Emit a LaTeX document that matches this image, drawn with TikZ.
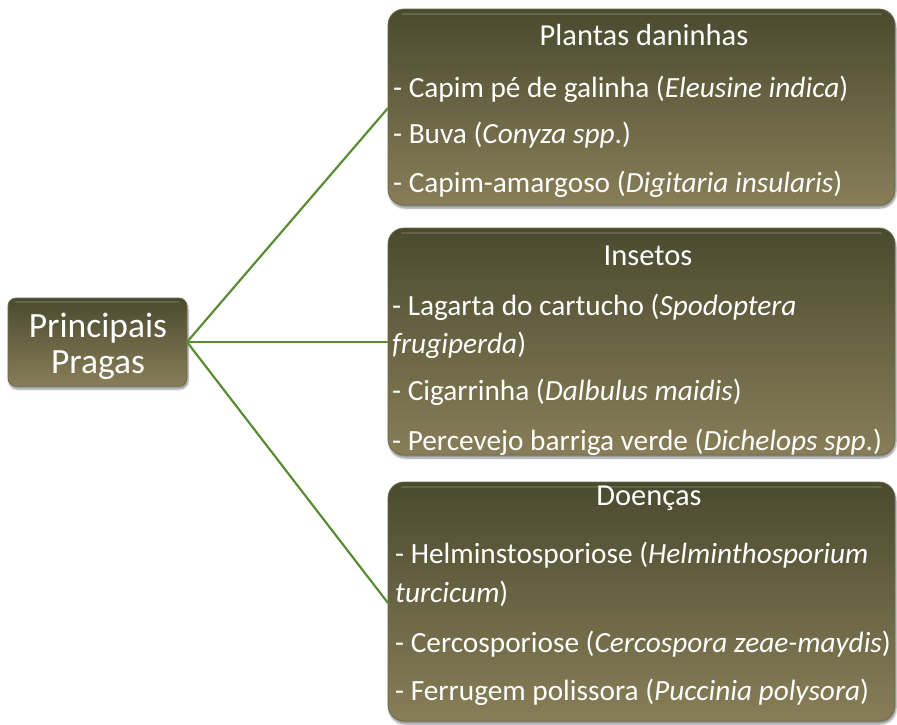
\documentclass[tikz,border=0pt]{standalone}
\usepackage{fontspec}
\setmainfont{Carlito}
\usetikzlibrary{shadows.blur}
\definecolor{boxtop}{HTML}{4A4A2F}
\definecolor{boxbot}{HTML}{887E58}
\definecolor{boxedge}{HTML}{6E6A4A}
\definecolor{linkgreen}{HTML}{5A8C33}
\tikzset{
  panel/.style={draw=boxedge, line width=0.8pt, rounded corners=16pt,
    top color=boxtop, bottom color=boxbot, inner sep=0pt,
    blur shadow={shadow xshift=1pt, shadow yshift=-3pt, shadow blur steps=6, shadow opacity=45}},
  root/.style={panel, rounded corners=8pt},
  gloss/.style={draw=white, line width=2pt, opacity=0.14, line cap=round},
  title/.style={text=white, inner sep=0pt, anchor=base, font=\fontsize{30.5}{35}\selectfont},
  item/.style={text=white, inner sep=0pt, anchor=base west, font=\fontsize{29.3}{34}\selectfont},
  rootlabel/.style={text=white, inner sep=0pt, anchor=base, font=\fontsize{35.5}{40}\selectfont},
  link/.style={draw=linkgreen, line width=2.2pt}
}
\begin{document}
\begin{tikzpicture}[x=1pt,y=-1pt]
\useasboundingbox (0,0) rectangle (897,724);
% boxes
\path[root] (8,298) rectangle (187,386);
\draw[gloss] (16,302) -- (179,302);
\coordinate (rootE) at (187,342);
\path[panel] (388,9) rectangle (895,205);
\draw[gloss] (402,14) -- (881,14);
\coordinate (b1W) at (388,108);
\path[panel] (388,228) rectangle (895,455);
\draw[gloss] (402,233) -- (881,233);
\coordinate (b2W) at (388,342);
\path[panel] (388,482) rectangle (895,721);
\draw[gloss] (402,487) -- (881,487);
\coordinate (b3W) at (388,603);
% connectors
\draw[link] (rootE) -- (b1W);
\draw[link] (rootE) -- (b2W);
\draw[link] (rootE) -- (b3W);
% root text
\node[rootlabel] (r1) at (98,337) {Principais};
\node[rootlabel] (r2) at (98,373) {Pragas};
% box 1
\node[title] (h1) at (644,45) {Plantas daninhas};
\node[item] (a1) at (393,97) {- Capim pé de galinha (\textit{Eleusine indica})};
\node[item] (a2) at (393,143) {- Buva (\textit{Conyza spp}.)};
\node[item] (a3) at (393,192) {- Capim-amargoso (\textit{Digitaria insularis})};
% box 2
\node[title] (h2) at (648,265) {Insetos};
\node[item] (b1) at (392,315) {- Lagarta do cartucho (\textit{Spodoptera}};
\node[item] (b1b) at (392,353) {\textit{frugiperda})};
\node[item] (b2) at (392,400) {- Cigarrinha (\textit{Dalbulus maidis})};
\node[item] (b3) at (392,450) {- Percevejo barriga verde (\textit{Dichelops spp}.)};
% box 3
\node[title] (h3) at (649,505) {Doenças};
\node[item] (c1) at (395,563) {- Helminstosporiose (\textit{Helminthosporium}};
\node[item] (c1b) at (395,602) {\textit{turcicum})};
\node[item] (c2) at (395,652) {- Cercosporiose (\textit{Cercospora zeae-maydis})};
\node[item] (c3) at (395,700) {- Ferrugem polissora (\textit{Puccinia polysora})};
\end{tikzpicture}
\end{document}
